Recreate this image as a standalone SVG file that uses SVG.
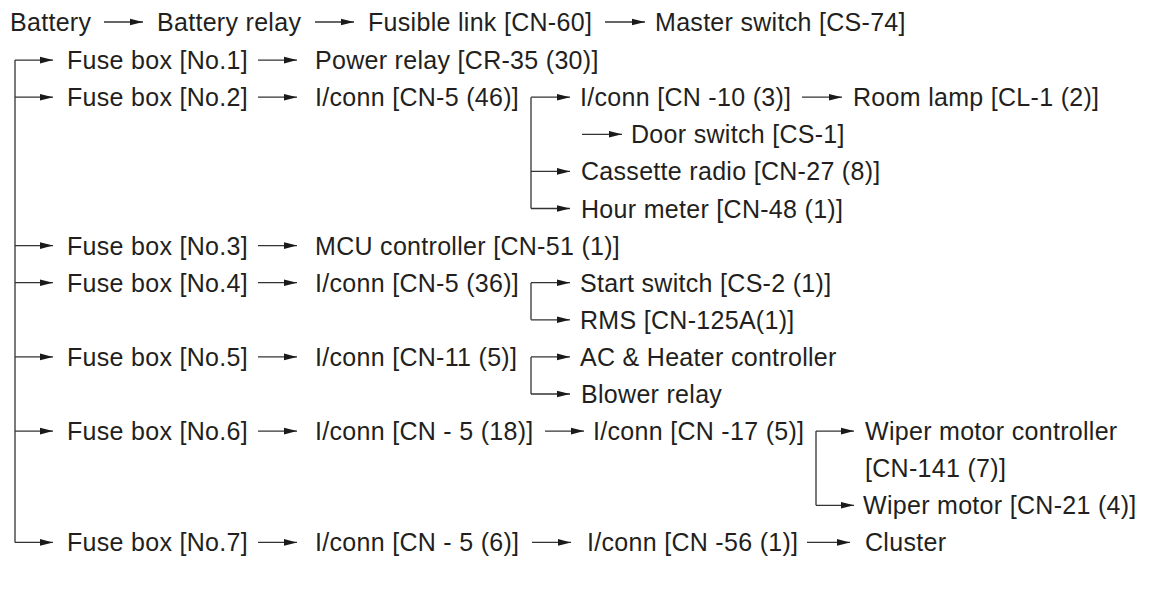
<svg xmlns="http://www.w3.org/2000/svg" width="1152" height="598" viewBox="0 0 1152 598">
<defs>
<marker id="ah" markerUnits="userSpaceOnUse" markerWidth="16" markerHeight="10" refX="13" refY="5" orient="auto" overflow="visible">
<path d="M0,1.7 L13,5 L0,8.3 z" fill="#1a1a1a"/>
</marker>
<style>
text{font-family:"Liberation Sans",Arial,Helvetica,sans-serif;font-size:25px;fill:#231f20;letter-spacing:0.3px}
.c line{stroke:#333;stroke-width:1.3;fill:none}
.a{marker-end:url(#ah)}
</style>
</defs>
<rect width="1152" height="598" fill="#fff"/>
<g class="c" id="connectors">
<line class="a" x1="104" y1="22" x2="143" y2="22"/>
<line class="a" x1="315" y1="22" x2="354" y2="22"/>
<line class="a" x1="605" y1="22" x2="645" y2="22"/>
<line x1="15" y1="60.1" x2="15" y2="542.4"/>
<line class="a" x1="15" y1="60.1" x2="53" y2="60.1"/>
<line class="a" x1="15" y1="97.2" x2="53" y2="97.2"/>
<line class="a" x1="15" y1="245.6" x2="53" y2="245.6"/>
<line class="a" x1="15" y1="282.7" x2="53" y2="282.7"/>
<line class="a" x1="15" y1="356.9" x2="53" y2="356.9"/>
<line class="a" x1="15" y1="431.1" x2="53" y2="431.1"/>
<line class="a" x1="15" y1="542.4" x2="53" y2="542.4"/>
<line class="a" x1="258" y1="60.1" x2="297" y2="60.1"/>
<line class="a" x1="258" y1="97.2" x2="297" y2="97.2"/>
<line class="a" x1="258" y1="245.6" x2="297" y2="245.6"/>
<line class="a" x1="258" y1="282.7" x2="297" y2="282.7"/>
<line class="a" x1="258" y1="356.9" x2="297" y2="356.9"/>
<line class="a" x1="258" y1="431.1" x2="297" y2="431.1"/>
<line class="a" x1="258" y1="542.4" x2="297" y2="542.4"/>
<line x1="531" y1="97.2" x2="531" y2="208.5"/>
<line class="a" x1="531" y1="97.2" x2="570" y2="97.2"/>
<line class="a" x1="531" y1="171.4" x2="570" y2="171.4"/>
<line class="a" x1="531" y1="208.5" x2="570" y2="208.5"/>
<line class="a" x1="802" y1="97.2" x2="842" y2="97.2"/>
<line class="a" x1="582" y1="134.3" x2="622" y2="134.3"/>
<line x1="531" y1="282.7" x2="531" y2="319.8"/>
<line class="a" x1="531" y1="282.7" x2="570" y2="282.7"/>
<line class="a" x1="531" y1="319.8" x2="570" y2="319.8"/>
<line x1="531" y1="356.9" x2="531" y2="394"/>
<line class="a" x1="531" y1="356.9" x2="570" y2="356.9"/>
<line class="a" x1="531" y1="394" x2="570" y2="394"/>
<line class="a" x1="545" y1="431.1" x2="584" y2="431.1"/>
<line x1="816" y1="431.1" x2="816" y2="505.3"/>
<line class="a" x1="816" y1="431.1" x2="854" y2="431.1"/>
<line class="a" x1="816" y1="505.3" x2="854" y2="505.3"/>
<line class="a" x1="532" y1="542.4" x2="571" y2="542.4"/>
<line class="a" x1="807" y1="542.4" x2="850" y2="542.4"/>
</g>
<g id="battery"><text x="10" y="31">Battery</text></g>
<g id="battery-relay"><text x="157" y="31">Battery relay</text></g>
<g id="fusible-link"><text x="368" y="31">Fusible link [CN-60]</text></g>
<g id="master-switch"><text x="655" y="31">Master switch [CS-74]</text></g>
<g id="fuse1"><text x="67" y="69.1">Fuse box [No.1]</text></g>
<g id="power-relay"><text x="315" y="69.1">Power relay [CR-35 (30)]</text></g>
<g id="fuse2"><text x="67" y="106.2">Fuse box [No.2]</text></g>
<g id="iconn-cn5-46"><text x="315" y="106.2">I/conn [CN-5 (46)]</text></g>
<g id="iconn-cn10"><text x="580" y="106.2">I/conn [CN -10 (3)]</text></g>
<g id="room-lamp"><text x="853" y="106.2">Room lamp [CL-1 (2)]</text></g>
<g id="door-switch"><text x="631" y="143.3">Door switch [CS-1]</text></g>
<g id="cassette"><text x="581" y="180.4">Cassette radio [CN-27 (8)]</text></g>
<g id="hour-meter"><text x="581" y="217.5">Hour meter [CN-48 (1)]</text></g>
<g id="fuse3"><text x="67" y="254.6">Fuse box [No.3]</text></g>
<g id="mcu"><text x="315" y="254.6">MCU controller [CN-51 (1)]</text></g>
<g id="fuse4"><text x="67" y="291.7">Fuse box [No.4]</text></g>
<g id="iconn-cn5-36"><text x="315" y="291.7">I/conn [CN-5 (36)]</text></g>
<g id="start-switch"><text x="580" y="291.7">Start switch [CS-2 (1)]</text></g>
<g id="rms"><text x="580" y="328.8">RMS [CN-125A(1)]</text></g>
<g id="fuse5"><text x="67" y="365.9">Fuse box [No.5]</text></g>
<g id="iconn-cn11"><text x="315" y="365.9">I/conn [CN-11 (5)]</text></g>
<g id="ac-heater"><text x="580" y="365.9">AC &amp; Heater controller</text></g>
<g id="blower-relay"><text x="581" y="403">Blower relay</text></g>
<g id="fuse6"><text x="67" y="440.1">Fuse box [No.6]</text></g>
<g id="iconn-cn5-18"><text x="315" y="440.1">I/conn [CN - 5 (18)]</text></g>
<g id="iconn-cn17"><text x="593" y="440.1">I/conn [CN -17 (5)]</text></g>
<g id="wiper-controller"><text x="865" y="440.1">Wiper motor controller</text><text x="865" y="477.2">[CN-141 (7)]</text></g>
<g id="wiper-motor"><text x="863" y="514.3">Wiper motor [CN-21 (4)]</text></g>
<g id="fuse7"><text x="67" y="551.4">Fuse box [No.7]</text></g>
<g id="iconn-cn5-6"><text x="315" y="551.4">I/conn [CN - 5 (6)]</text></g>
<g id="iconn-cn56"><text x="587" y="551.4">I/conn [CN -56 (1)]</text></g>
<g id="cluster"><text x="865" y="551.4">Cluster</text></g>
</svg>
